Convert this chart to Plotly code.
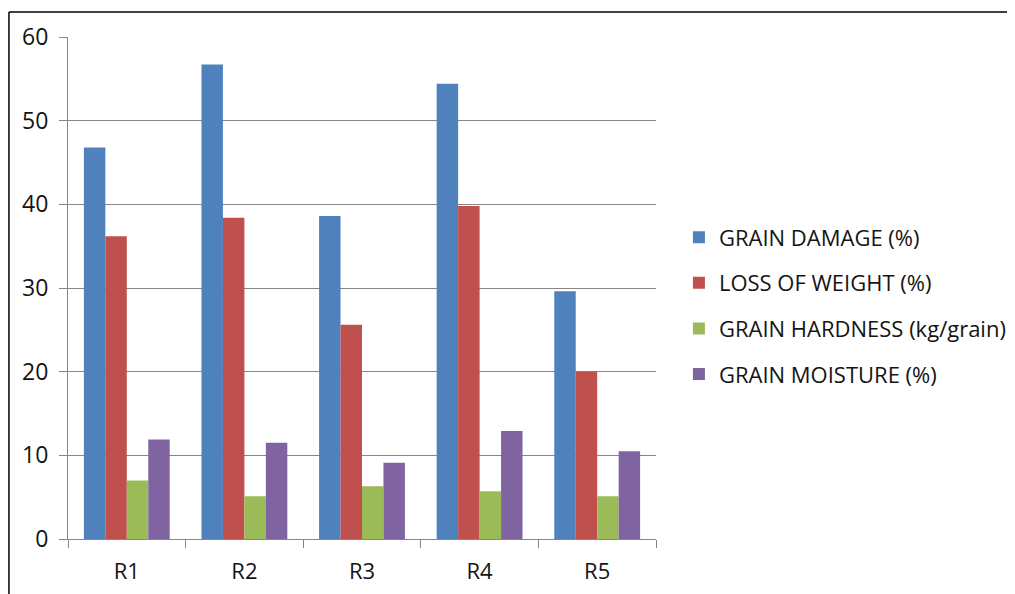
import plotly.graph_objects as go

categories = ["R1", "R2", "R3", "R4", "R5"]
grain_damage = [46.8, 56.7, 38.6, 54.4, 29.6]
loss_of_weight = [36.2, 38.4, 25.6, 39.8, 20.0]
grain_hardness = [7.0, 5.1, 6.3, 5.7, 5.1]
grain_moisture = [11.9, 11.5, 9.1, 12.9, 10.5]

series_names = ["GRAIN DAMAGE (%)", "LOSS OF WEIGHT (%)",
                "GRAIN HARDNESS (kg/grain)", "GRAIN MOISTURE (%)"]
series_values = [grain_damage, loss_of_weight, grain_hardness, grain_moisture]
colors = ["#4F81BD", "#C0504D", "#9BBB59", "#8064A2"]

W, H = 1015, 594
# page body has an 8px margin, so the figure is offset by 8px in the photo
L, R, T, B = 60, 365, 27, 63

fig = go.Figure()
for i, (name, vals, col) in enumerate(zip(series_names, series_values, colors)):
    fig.add_trace(go.Bar(
        x=categories, y=vals, name=name, marker_color=col,
        marker_line_width=0, legendgroup=f"g{i}",
    ))

font_family = "Open Sans"
grid_col = "#868686"
text_col = "#141414"

pw = W - L - R
ph = H - T - B
def px_to_paper_x(px):
    return (px - L) / pw
def px_to_paper_y(py):
    return (H - B - py) / ph

fig.update_layout(
    width=W, height=H,
    margin=dict(l=L, r=R, t=T, b=B, pad=0),
    paper_bgcolor="white", plot_bgcolor="white",
    barmode="group", bargap=0.27, bargroupgap=0,
    font=dict(family=font_family, color=text_col),
    showlegend=True,
    legend=dict(
        x=px_to_paper_x(673), xanchor="left",
        y=px_to_paper_y(297), yanchor="middle",
        font=dict(size=22, family=font_family, color=text_col),
        tracegroupgap=14, itemwidth=30,
        bgcolor="rgba(0,0,0,0)",
    ),
    xaxis=dict(
        showline=True, linecolor=grid_col, linewidth=1,
        ticks="outside", ticklen=8, tickcolor=grid_col, tickson="boundaries",
        tickfont=dict(size=22, family=font_family, color=text_col),
        ticklabelstandoff=13,
        showgrid=False,
    ),
    yaxis=dict(
        range=[0, 60], dtick=10, tick0=0,
        showline=True, linecolor=grid_col, linewidth=1,
        ticks="outside", ticklen=8, tickcolor=grid_col,
        showgrid=True, gridcolor=grid_col, gridwidth=1,
        zeroline=False,
        tickfont=dict(size=23, family=font_family, color=text_col),
        ticklabelstandoff=6,
    ),
)

# outer frame lines (top and left) of the original picture
fig.add_shape(type="line", xref="paper", yref="paper",
              x0=px_to_paper_x(0.75), x1=px_to_paper_x(1015),
              y0=px_to_paper_y(2), y1=px_to_paper_y(2),
              line=dict(color="black", width=1.5))
fig.add_shape(type="line", xref="paper", yref="paper",
              x0=px_to_paper_x(0.75), x1=px_to_paper_x(0.75),
              y0=px_to_paper_y(2), y1=px_to_paper_y(594),
              line=dict(color="black", width=1.5))

fig.write_html("out.html")
